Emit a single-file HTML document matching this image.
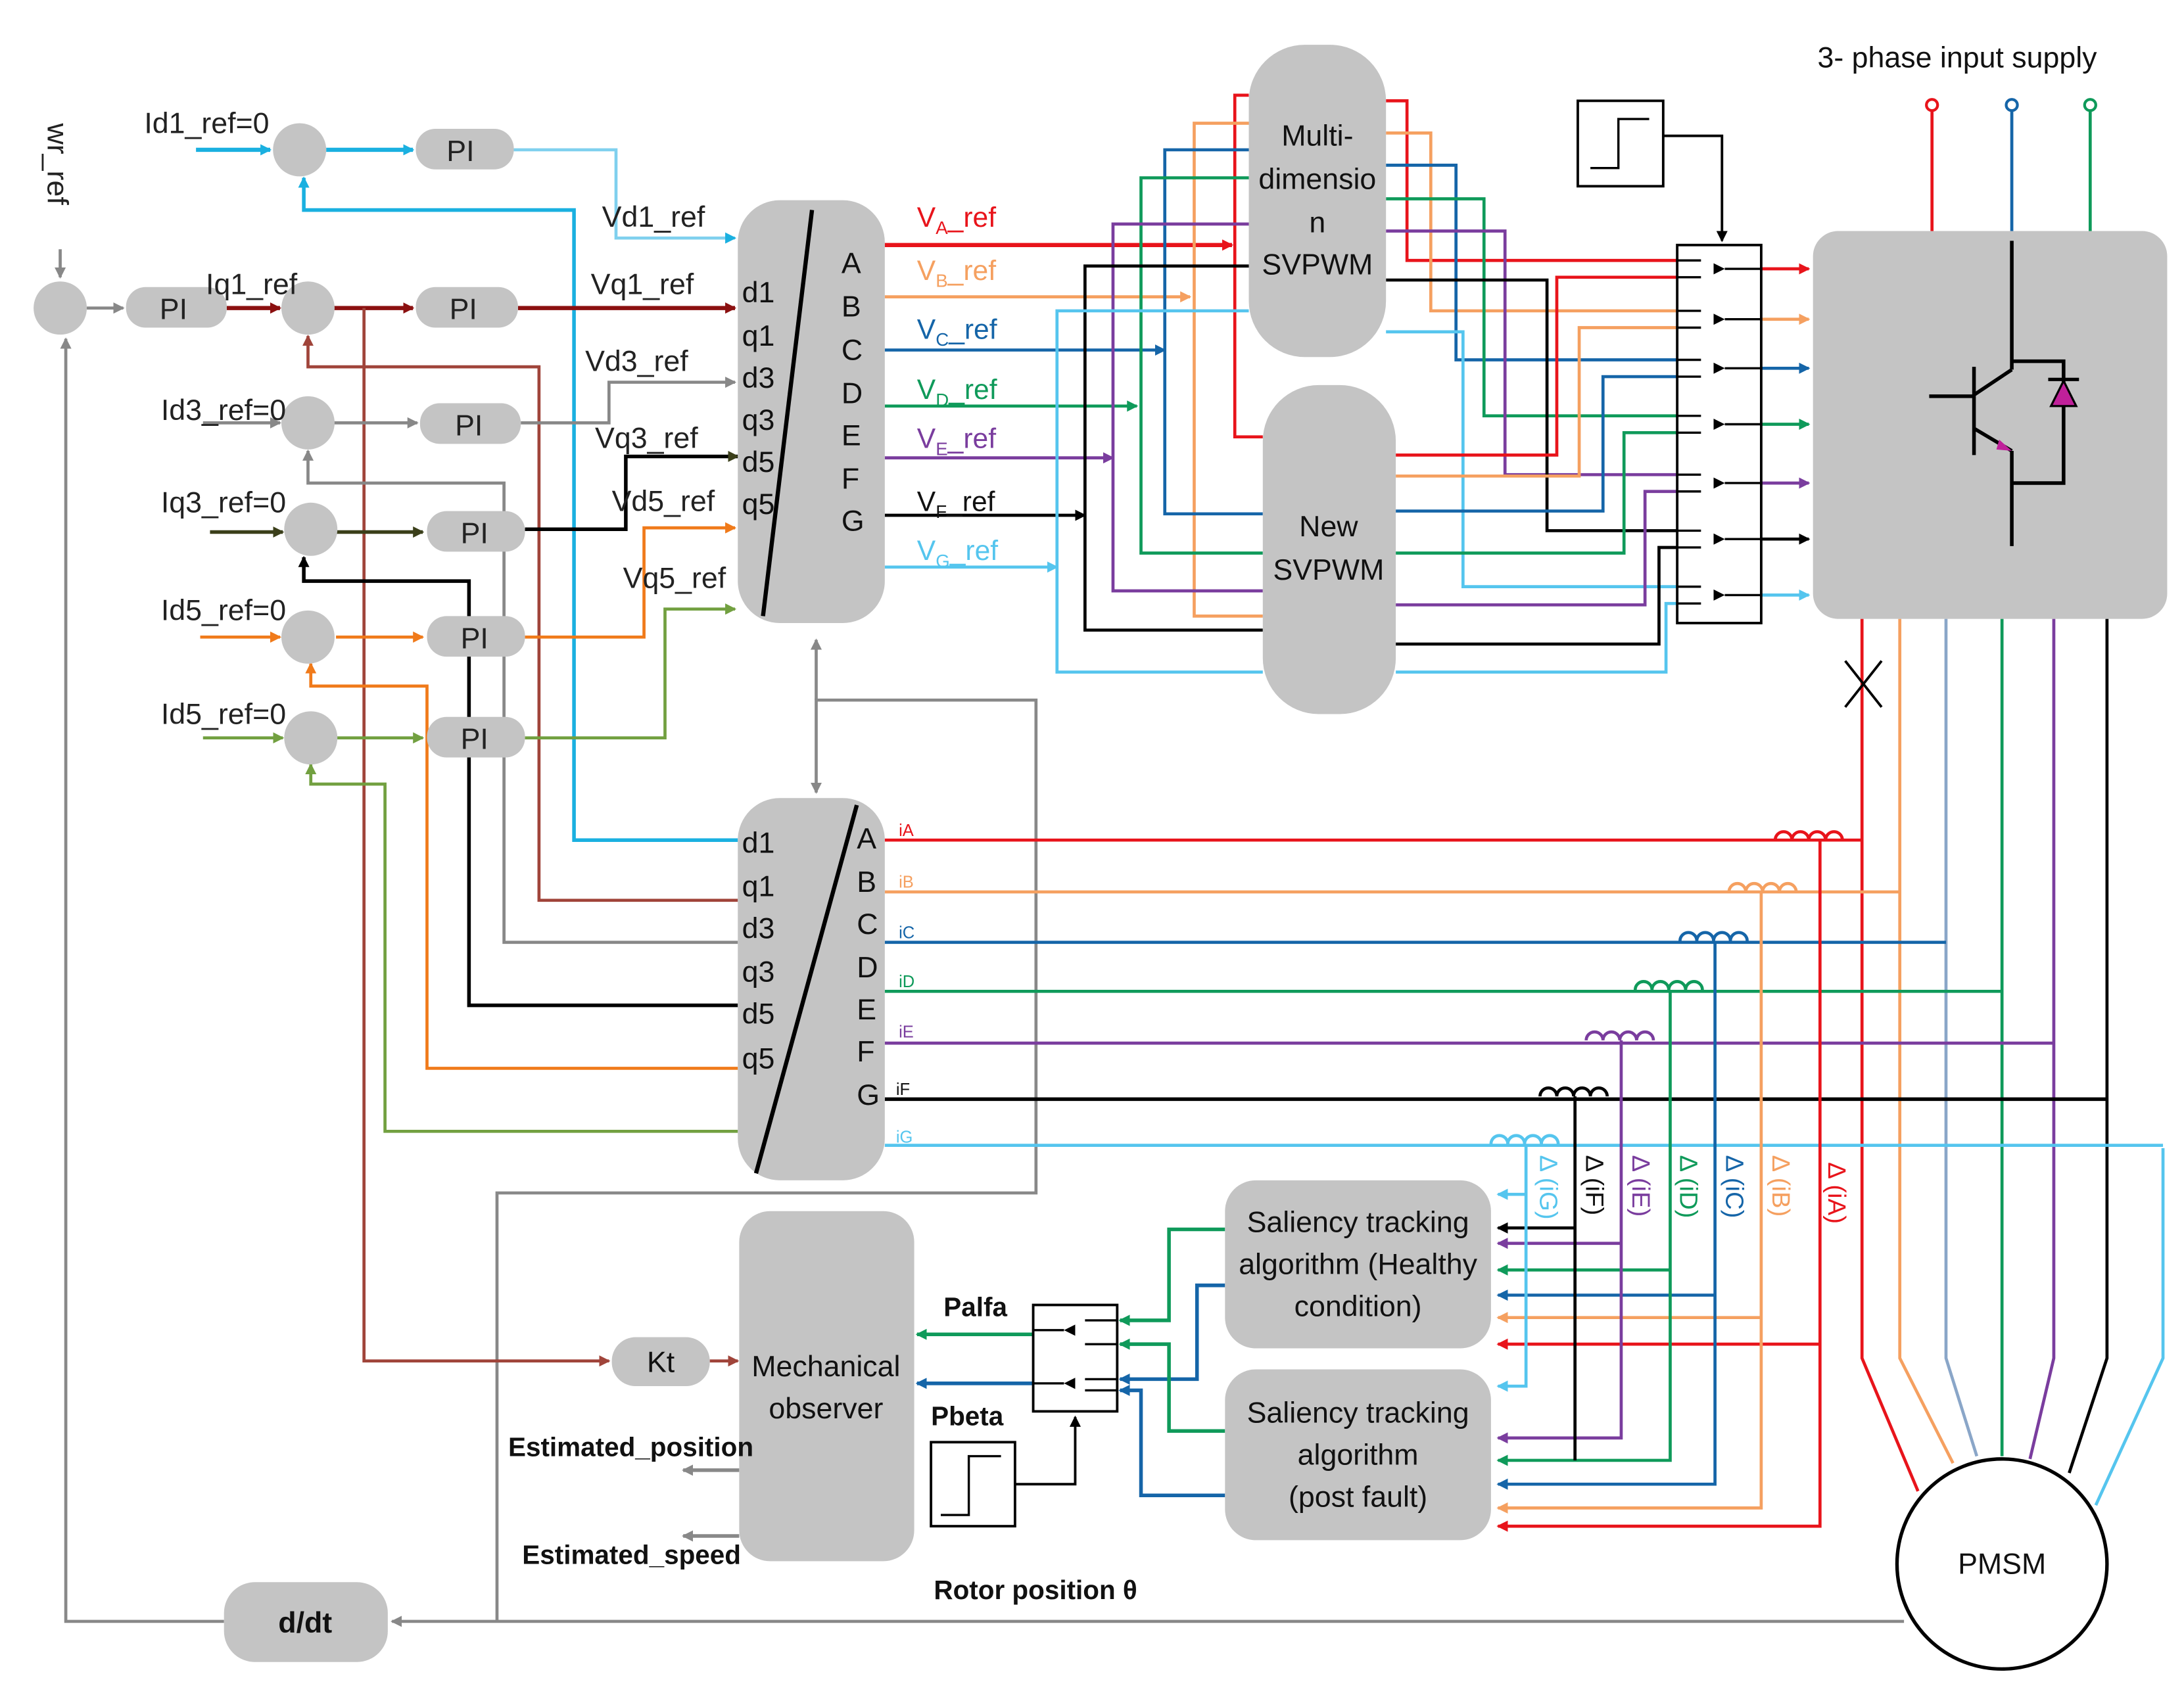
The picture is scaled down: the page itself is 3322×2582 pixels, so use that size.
<!DOCTYPE html>
<html><head><meta charset="utf-8"><style>
html,body{margin:0;padding:0;background:#fff}
svg{display:block}
text{font-family:"Liberation Sans",Arial,sans-serif}
</style></head><body>
<svg width="3322" height="2582" viewBox="0 0 1560 1212" preserveAspectRatio="none" xmlns="http://www.w3.org/2000/svg">
<defs>
<marker id="a-red" markerWidth="8" markerHeight="8" refX="7" refY="4" orient="auto" markerUnits="userSpaceOnUse"><path d="M0,0L8,4L0,8z" fill="#e8141b"/></marker>
<marker id="a-or" markerWidth="8" markerHeight="8" refX="7" refY="4" orient="auto" markerUnits="userSpaceOnUse"><path d="M0,0L8,4L0,8z" fill="#f5a060"/></marker>
<marker id="a-bl" markerWidth="8" markerHeight="8" refX="7" refY="4" orient="auto" markerUnits="userSpaceOnUse"><path d="M0,0L8,4L0,8z" fill="#1565a8"/></marker>
<marker id="a-gr" markerWidth="8" markerHeight="8" refX="7" refY="4" orient="auto" markerUnits="userSpaceOnUse"><path d="M0,0L8,4L0,8z" fill="#0f9a5a"/></marker>
<marker id="a-pu" markerWidth="8" markerHeight="8" refX="7" refY="4" orient="auto" markerUnits="userSpaceOnUse"><path d="M0,0L8,4L0,8z" fill="#7a3d9e"/></marker>
<marker id="a-bk" markerWidth="8" markerHeight="8" refX="7" refY="4" orient="auto" markerUnits="userSpaceOnUse"><path d="M0,0L8,4L0,8z" fill="#000"/></marker>
<marker id="a-lb" markerWidth="8" markerHeight="8" refX="7" refY="4" orient="auto" markerUnits="userSpaceOnUse"><path d="M0,0L8,4L0,8z" fill="#55c5ee"/></marker>
<marker id="a-cy" markerWidth="8" markerHeight="8" refX="7" refY="4" orient="auto" markerUnits="userSpaceOnUse"><path d="M0,0L8,4L0,8z" fill="#1ab0e0"/></marker>
<marker id="a-dr" markerWidth="8" markerHeight="8" refX="7" refY="4" orient="auto" markerUnits="userSpaceOnUse"><path d="M0,0L8,4L0,8z" fill="#8b1010"/></marker>
<marker id="a-br" markerWidth="8" markerHeight="8" refX="7" refY="4" orient="auto" markerUnits="userSpaceOnUse"><path d="M0,0L8,4L0,8z" fill="#a0443a"/></marker>
<marker id="a-gy" markerWidth="8" markerHeight="8" refX="7" refY="4" orient="auto" markerUnits="userSpaceOnUse"><path d="M0,0L8,4L0,8z" fill="#888"/></marker>
<marker id="a-ol" markerWidth="8" markerHeight="8" refX="7" refY="4" orient="auto" markerUnits="userSpaceOnUse"><path d="M0,0L8,4L0,8z" fill="#3b3f1a"/></marker>
<marker id="a-og" markerWidth="8" markerHeight="8" refX="7" refY="4" orient="auto" markerUnits="userSpaceOnUse"><path d="M0,0L8,4L0,8z" fill="#f07a1a"/></marker>
<marker id="a-lg" markerWidth="8" markerHeight="8" refX="7" refY="4" orient="auto" markerUnits="userSpaceOnUse"><path d="M0,0L8,4L0,8z" fill="#72a040"/></marker>
</defs>
<g fill="none" stroke-width="2.2">
<path d="M43,178V198" stroke="#888" marker-end="url(#a-gy)"/>
<path d="M62,220H88" stroke="#888" marker-end="url(#a-gy)"/>
<path d="M160,1158H47V242" stroke="#888" marker-end="url(#a-gy)"/>
<path d="M1360,1158H280" stroke="#888" marker-end="url(#a-gy)"/>
<path d="M355,1158V852H740V500H583V566" stroke="#888" marker-end="url(#a-gy)"/>
<path d="M583,500V457" stroke="#888" marker-end="url(#a-gy)"/>
<path d="M140,107H193" stroke="#1ab0e0" stroke-width="3" marker-end="url(#a-cy)"/>
<path d="M233,107H295" stroke="#1ab0e0" stroke-width="3" marker-end="url(#a-cy)"/>
<path d="M367,107H440V170H525" stroke="#7fd0ee" marker-end="url(#a-cy)"/>
<path d="M527,600H410V150H217V127" stroke="#1ab0e0" stroke-width="2.6" marker-end="url(#a-cy)"/>
<path d="M162,220H200" stroke="#8b1010" stroke-width="3" marker-end="url(#a-dr)"/>
<path d="M238,220H295" stroke="#8b1010" stroke-width="3" marker-end="url(#a-dr)"/>
<path d="M370,220H525" stroke="#8b1010" stroke-width="3" marker-end="url(#a-dr)"/>
<path d="M527,643H385V262H220V240" stroke="#a0443a" marker-end="url(#a-br)"/>
<path d="M260,220V972H435" stroke="#a0443a" marker-end="url(#a-br)"/>
<path d="M507,972H527" stroke="#a0443a" marker-end="url(#a-br)"/>
<path d="M145,302H200" stroke="#888" marker-end="url(#a-gy)"/>
<path d="M238,302H298" stroke="#888" marker-end="url(#a-gy)"/>
<path d="M372,302H435V273H525" stroke="#888" marker-end="url(#a-gy)"/>
<path d="M527,673H360V345H220V322" stroke="#888" marker-end="url(#a-gy)"/>
<path d="M150,380H202" stroke="#3b3f1a" stroke-width="2.6" marker-end="url(#a-ol)"/>
<path d="M240,380H302" stroke="#3b3f1a" stroke-width="2.6" marker-end="url(#a-ol)"/>
<path d="M375,378H447V326H527" stroke="#000" stroke-width="2.6" marker-end="url(#a-ol)"/>
<path d="M527,718H335V415H217V398" stroke="#000" stroke-width="2.6" marker-end="url(#a-bk)"/>
<path d="M143,455H200" stroke="#f07a1a" marker-end="url(#a-og)"/>
<path d="M240,455H302" stroke="#f07a1a" marker-end="url(#a-og)"/>
<path d="M375,455H460V377H525" stroke="#f07a1a" marker-end="url(#a-og)"/>
<path d="M527,763H305V490H222V474" stroke="#f07a1a" marker-end="url(#a-og)"/>
<path d="M145,527H202" stroke="#72a040" marker-end="url(#a-lg)"/>
<path d="M240,527H302" stroke="#72a040" marker-end="url(#a-lg)"/>
<path d="M375,527H475V435H525" stroke="#72a040" marker-end="url(#a-lg)"/>
<path d="M527,808H275V560H222V546" stroke="#72a040" marker-end="url(#a-lg)"/>
<path d="M632,175H880" stroke="#e8141b" stroke-width="3" marker-end="url(#a-red)"/>
<path d="M632,212H850" stroke="#f5a060" marker-end="url(#a-or)"/>
<path d="M632,250H832" stroke="#1565a8" marker-end="url(#a-bl)"/>
<path d="M632,290H812" stroke="#0f9a5a" marker-end="url(#a-gr)"/>
<path d="M632,327H795" stroke="#7a3d9e" marker-end="url(#a-pu)"/>
<path d="M632,368H775" stroke="#000" marker-end="url(#a-bk)"/>
<path d="M632,405H755" stroke="#55c5ee" marker-end="url(#a-lb)"/>
<path d="M892,68H882V312H902" stroke="#e8141b"/>
<path d="M892,88H853V440H902" stroke="#f5a060"/>
<path d="M892,107H832V367H902" stroke="#1565a8"/>
<path d="M892,127H815V395H902" stroke="#0f9a5a"/>
<path d="M892,160H795V422H902" stroke="#7a3d9e"/>
<path d="M892,190H775V450H902" stroke="#000"/>
<path d="M892,222H755V480H902" stroke="#55c5ee"/>
<path d="M990,72H1005V186H1200" stroke="#e8141b"/>
<path d="M990,95H1022V222H1200" stroke="#f5a060"/>
<path d="M990,118H1040V257H1200" stroke="#1565a8"/>
<path d="M990,142H1060V297H1200" stroke="#0f9a5a"/>
<path d="M990,165H1075V339H1200" stroke="#7a3d9e"/>
<path d="M990,200H1105V379H1200" stroke="#000"/>
<path d="M990,237H1045V419H1200" stroke="#55c5ee"/>
<path d="M997,325H1112V198H1200" stroke="#e8141b"/>
<path d="M997,340H1128V234H1200" stroke="#f5a060"/>
<path d="M997,365H1145V269H1200" stroke="#1565a8"/>
<path d="M997,395H1160V309H1200" stroke="#0f9a5a"/>
<path d="M997,432H1175V351H1200" stroke="#7a3d9e"/>
<path d="M997,460H1185V391H1200" stroke="#000"/>
<path d="M997,480H1190V431H1200" stroke="#55c5ee"/>
<path d="M1258,192H1292" stroke="#e8141b" marker-end="url(#a-red)"/>
<path d="M1258,228H1292" stroke="#f5a060" marker-end="url(#a-or)"/>
<path d="M1258,263H1292" stroke="#1565a8" marker-end="url(#a-bl)"/>
<path d="M1258,303H1292" stroke="#0f9a5a" marker-end="url(#a-gr)"/>
<path d="M1258,345H1292" stroke="#7a3d9e" marker-end="url(#a-pu)"/>
<path d="M1258,385H1292" stroke="#000" marker-end="url(#a-bk)"/>
<path d="M1258,425H1292" stroke="#55c5ee" marker-end="url(#a-lb)"/>
<path d="M1188,97H1230V172" stroke="#000" stroke-width="1.8" marker-end="url(#a-bk)"/>
<path d="M1380,165V78" stroke="#e8141b"/>
<path d="M1437,165V78" stroke="#1565a8"/>
<path d="M1493,165V78" stroke="#0f9a5a"/>
<path d="M1330,442V970L1370,1065" stroke="#e8141b"/>
<path d="M1357,442V970L1395,1045" stroke="#f5a060"/>
<path d="M1390,442V970L1412,1040" stroke="#8aa6c8"/>
<path d="M1430,442V1040" stroke="#0f9a5a"/>
<path d="M1467,442V970L1450,1042" stroke="#7a3d9e"/>
<path d="M1505,442V970L1478,1052" stroke="#000"/>
<path d="M1545,820V970L1497,1075" stroke="#55c5ee"/>
<path d="M1318,472L1344,505M1344,472L1318,505" stroke="#000" stroke-width="1.8"/>
<path d="M632,600H1330" stroke="#e8141b"/>
<path d="M632,637H1357" stroke="#f5a060"/>
<path d="M632,673H1390" stroke="#1565a8"/>
<path d="M632,708H1430" stroke="#0f9a5a"/>
<path d="M632,745H1467" stroke="#7a3d9e"/>
<path d="M632,785H1505" stroke="#000" stroke-width="2.6"/>
<path d="M632,818H1545" stroke="#55c5ee"/>
<path d="M1268,600a6,6 0 0,1 12,0a6,6 0 0,1 12,0a6,6 0 0,1 12,0a6,6 0 0,1 12,0" stroke="#e8141b"/>
<path d="M1235,637a6,6 0 0,1 12,0a6,6 0 0,1 12,0a6,6 0 0,1 12,0a6,6 0 0,1 12,0" stroke="#f5a060"/>
<path d="M1200,672a6,6 0 0,1 12,0a6,6 0 0,1 12,0a6,6 0 0,1 12,0a6,6 0 0,1 12,0" stroke="#1565a8"/>
<path d="M1168,707a6,6 0 0,1 12,0a6,6 0 0,1 12,0a6,6 0 0,1 12,0a6,6 0 0,1 12,0" stroke="#0f9a5a"/>
<path d="M1133,743a6,6 0 0,1 12,0a6,6 0 0,1 12,0a6,6 0 0,1 12,0a6,6 0 0,1 12,0" stroke="#7a3d9e"/>
<path d="M1100,783a6,6 0 0,1 12,0a6,6 0 0,1 12,0a6,6 0 0,1 12,0a6,6 0 0,1 12,0" stroke="#000"/>
<path d="M1065,817a6,6 0 0,1 12,0a6,6 0 0,1 12,0a6,6 0 0,1 12,0a6,6 0 0,1 12,0" stroke="#55c5ee"/>
<path d="M1300,600V1090H1070" stroke="#e8141b" marker-end="url(#a-red)"/>
<path d="M1300,960H1070" stroke="#e8141b" marker-end="url(#a-red)"/>
<path d="M1258,637V1077H1070" stroke="#f5a060" marker-end="url(#a-or)"/>
<path d="M1258,941H1070" stroke="#f5a060" marker-end="url(#a-or)"/>
<path d="M1225,672V1060H1070" stroke="#1565a8" marker-end="url(#a-bl)"/>
<path d="M1225,925H1070" stroke="#1565a8" marker-end="url(#a-bl)"/>
<path d="M1193,707V1043H1070" stroke="#0f9a5a" marker-end="url(#a-gr)"/>
<path d="M1193,907H1070" stroke="#0f9a5a" marker-end="url(#a-gr)"/>
<path d="M1158,743V1027H1070" stroke="#7a3d9e" marker-end="url(#a-pu)"/>
<path d="M1158,888H1070" stroke="#7a3d9e" marker-end="url(#a-pu)"/>
<path d="M1125,783V1043" stroke="#000"/>
<path d="M1125,877H1070" stroke="#000" marker-end="url(#a-bk)"/>
<path d="M1090,817V990H1070" stroke="#55c5ee" marker-end="url(#a-lb)"/>
<path d="M1090,853H1070" stroke="#55c5ee" marker-end="url(#a-lb)"/>
<path d="M875,878H835V943H800" stroke="#0f9a5a" stroke-width="2.6" marker-end="url(#a-gr)"/>
<path d="M875,918H855V985H800" stroke="#1565a8" stroke-width="2.6" marker-end="url(#a-bl)"/>
<path d="M875,1022H835V960H800" stroke="#0f9a5a" stroke-width="2.6" marker-end="url(#a-gr)"/>
<path d="M875,1068H815V993H800" stroke="#1565a8" stroke-width="2.6" marker-end="url(#a-bl)"/>
<path d="M738,953H655" stroke="#0f9a5a" stroke-width="2.6" marker-end="url(#a-gr)"/>
<path d="M738,988H655" stroke="#1565a8" stroke-width="2.6" marker-end="url(#a-bl)"/>
<path d="M725,1060H768V1012" stroke="#000" stroke-width="1.8" marker-end="url(#a-bk)"/>
<path d="M528,1050H488" stroke="#888" stroke-width="2.6" marker-end="url(#a-gy)"/>
<path d="M528,1097H488" stroke="#888" stroke-width="2.6" marker-end="url(#a-gy)"/>
</g>
<g fill="#c4c4c4">
<circle cx="43" cy="220" r="19"/>
<circle cx="214" cy="107" r="19"/>
<circle cx="220" cy="220" r="19"/>
<circle cx="220" cy="302" r="19"/>
<circle cx="222" cy="378" r="19"/>
<circle cx="220" cy="455" r="19"/>
<circle cx="222" cy="527" r="19"/>
<rect x="297" y="92" width="70" height="29" rx="14"/>
<rect x="90" y="205" width="72" height="29" rx="14"/>
<rect x="297" y="205" width="73" height="29" rx="14"/>
<rect x="300" y="288" width="72" height="29" rx="14"/>
<rect x="305" y="365" width="70" height="29" rx="14"/>
<rect x="305" y="440" width="70" height="29" rx="14"/>
<rect x="305" y="512" width="70" height="29" rx="14"/>
<rect x="527" y="143" width="105" height="302" rx="30"/>
<rect x="527" y="570" width="105" height="273" rx="30"/>
<rect x="892" y="32" width="98" height="223" rx="40"/>
<rect x="902" y="275" width="95" height="235" rx="40"/>
<rect x="1295" y="165" width="253" height="277" rx="18"/>
<rect x="875" y="843" width="190" height="120" rx="22"/>
<rect x="875" y="978" width="190" height="122" rx="22"/>
<rect x="528" y="865" width="125" height="250" rx="22"/>
<rect x="437" y="955" width="70" height="35" rx="17"/>
<rect x="160" y="1130" width="117" height="57" rx="22"/>
</g>
<g stroke="#000" stroke-width="3" fill="none">
<path d="M580,150L545,440"/><path d="M612,575L540,838"/>
</g>
<g stroke="#000" stroke-width="1.8" fill="#fff">
<rect x="1198" y="175" width="60" height="270"/>
<rect x="738" y="932" width="60" height="76"/>
<rect x="1127" y="72" width="61" height="61"/>
<rect x="665" y="1030" width="60" height="60"/>
</g>
<g stroke="#000" stroke-width="1.6" fill="none">
<path d="M1136,120H1156V85H1178"/><path d="M672,1082H692V1040H715"/>
<path d="M1198,186H1215M1198,198H1215M1232,192H1258M1198,222H1215M1198,234H1215M1232,228H1258M1198,257H1215M1198,269H1215M1232,263H1258M1198,297H1215M1198,309H1215M1232,303H1258M1198,339H1215M1198,351H1215M1232,345H1258M1198,379H1215M1198,391H1215M1232,385H1258M1198,419H1215M1198,431H1215M1232,425H1258"/>
<path d="M798,943H775M798,960H775M760,950H738M798,985H775M798,993H775M760,988H738"/>
</g>
<g fill="#000">
<path d="M1224,188l8,4l-8,4z M1224,224l8,4l-8,4z M1224,259l8,4l-8,4z M1224,299l8,4l-8,4z M1224,341l8,4l-8,4z M1224,381l8,4l-8,4z M1224,421l8,4l-8,4z"/>
<path d="M768,946l-8,4l8,4z M768,984l-8,4l8,4z"/>
</g>
<g fill="#fff" stroke-width="2"><circle cx="1380" cy="75" r="4" stroke="#e8141b"/><circle cx="1437" cy="75" r="4" stroke="#1565a8"/><circle cx="1493" cy="75" r="4" stroke="#0f9a5a"/></g>
<g stroke="#000" stroke-width="2.6" fill="none">
<path d="M1410,262V325M1378,283H1410M1410,282L1437,264M1437,172V264M1410,306L1437,322M1437,322V390M1437,258H1474V345H1437"/>
</g>
<path d="M1465,290H1483L1474,272Z" fill="#c0209a" stroke="#000" stroke-width="1.5"/>
<path d="M1463,271H1485" stroke="#000" stroke-width="2.4"/>
<path d="M1428,314l9,8l-11,-1z" fill="#c0209a"/>
<circle cx="1430" cy="1117" r="75" fill="#fff" stroke="#000" stroke-width="2.5"/>
<g font-size="21" fill="#222">
<text x="103" y="95">Id1_ref=0</text>
<text x="147" y="210">Iq1_ref</text>
<text x="115" y="300">Id3_ref=0</text>
<text x="115" y="366">Iq3_ref=0</text>
<text x="115" y="443">Id5_ref=0</text>
<text x="115" y="517">Id5_ref=0</text>
<text x="430" y="162">Vd1_ref</text>
<text x="422" y="210">Vq1_ref</text>
<text x="418" y="265">Vd3_ref</text>
<text x="425" y="320">Vq3_ref</text>
<text x="437" y="365">Vd5_ref</text>
<text x="445" y="420">Vq5_ref</text>
<text transform="translate(34,88) rotate(90)">wr_ref</text>
<text x="319" y="115">PI</text><text x="114" y="228">PI</text><text x="321" y="228">PI</text><text x="325" y="311">PI</text><text x="329" y="388">PI</text><text x="329" y="463">PI</text><text x="329" y="535">PI</text>
</g>
<g font-size="21" fill="#111">
<text x="530" y="216">d1</text><text x="530" y="247">q1</text><text x="530" y="277">d3</text><text x="530" y="307">q3</text><text x="530" y="337">d5</text><text x="530" y="367">q5</text>
<text x="601" y="195">A</text><text x="601" y="226">B</text><text x="601" y="257">C</text><text x="601" y="288">D</text><text x="601" y="318">E</text><text x="601" y="349">F</text><text x="601" y="379">G</text>
<text x="530" y="609">d1</text><text x="530" y="640">q1</text><text x="530" y="670">d3</text><text x="530" y="701">q3</text><text x="530" y="731">d5</text><text x="530" y="763">q5</text>
<text x="612" y="606">A</text><text x="612" y="637">B</text><text x="612" y="667">C</text><text x="612" y="698">D</text><text x="612" y="728">E</text><text x="612" y="758">F</text><text x="612" y="789">G</text>
</g>
<g font-size="20">
<text x="655" y="162" fill="#e8141b">V<tspan font-size="13" dy="5">A</tspan><tspan dy="-5">_ref</tspan></text>
<text x="655" y="200" fill="#f5a060">V<tspan font-size="13" dy="5">B</tspan><tspan dy="-5">_ref</tspan></text>
<text x="655" y="242" fill="#1565a8">V<tspan font-size="13" dy="5">C</tspan><tspan dy="-5">_ref</tspan></text>
<text x="655" y="285" fill="#0f9a5a">V<tspan font-size="13" dy="5">D</tspan><tspan dy="-5">_ref</tspan></text>
<text x="655" y="320" fill="#7a3d9e">V<tspan font-size="13" dy="5">E</tspan><tspan dy="-5">_ref</tspan></text>
<text x="655" y="365" fill="#111">V<tspan font-size="13" dy="5">F</tspan><tspan dy="-5">_ref</tspan></text>
<text x="655" y="400" fill="#55c5ee">V<tspan font-size="13" dy="5">G</tspan><tspan dy="-5">_ref</tspan></text>
</g>
<g font-size="12">
<text x="642" y="597" fill="#e8141b">iA</text><text x="642" y="634" fill="#f5a060">iB</text><text x="642" y="670" fill="#1565a8">iC</text><text x="642" y="705" fill="#0f9a5a">iD</text><text x="642" y="741" fill="#7a3d9e">iE</text><text x="640" y="782" fill="#111">iF</text><text x="640" y="816" fill="#55c5ee">iG</text>
</g>
<g font-size="18">
<text transform="translate(1100,825) rotate(90)" fill="#55c5ee">Δ (iG)</text>
<text transform="translate(1133,825) rotate(90)" fill="#111">Δ (iF)</text>
<text transform="translate(1166,825) rotate(90)" fill="#7a3d9e">Δ (iE)</text>
<text transform="translate(1200,825) rotate(90)" fill="#0f9a5a">Δ (iD)</text>
<text transform="translate(1233,825) rotate(90)" fill="#1565a8">Δ (iC)</text>
<text transform="translate(1266,825) rotate(90)" fill="#f5a060">Δ (iB)</text>
<text transform="translate(1306,830) rotate(90)" fill="#e8141b">Δ (iA)</text>
</g>
<g font-size="21" fill="#111" text-anchor="middle">
<text x="941" y="104">Multi-</text><text x="941" y="135">dimensio</text><text x="941" y="166">n</text><text x="941" y="196">SVPWM</text>
<text x="949" y="383">New</text><text x="949" y="414">SVPWM</text>
<text x="970" y="880">Saliency tracking</text><text x="970" y="910">algorithm (Healthy</text><text x="970" y="940">condition)</text>
<text x="970" y="1016">Saliency tracking</text><text x="970" y="1046">algorithm</text><text x="970" y="1076">(post fault)</text>
<text x="590" y="983">Mechanical</text><text x="590" y="1013">observer</text>
<text x="472" y="980">Kt</text>
<text x="1430" y="1124">PMSM</text>
<text x="1398" y="48">3- phase input supply</text>
</g>
<g font-size="19" font-weight="bold" fill="#111">
<text x="674" y="940">Palfa</text>
<text x="665" y="1018">Pbeta</text>
<text x="363" y="1040">Estimated_position</text>
<text x="373" y="1117">Estimated_speed</text>
<text x="667" y="1142">Rotor position   θ</text>
<text x="218" y="1166" text-anchor="middle" font-size="21">d/dt</text>
</g>
</svg>
</body></html>
